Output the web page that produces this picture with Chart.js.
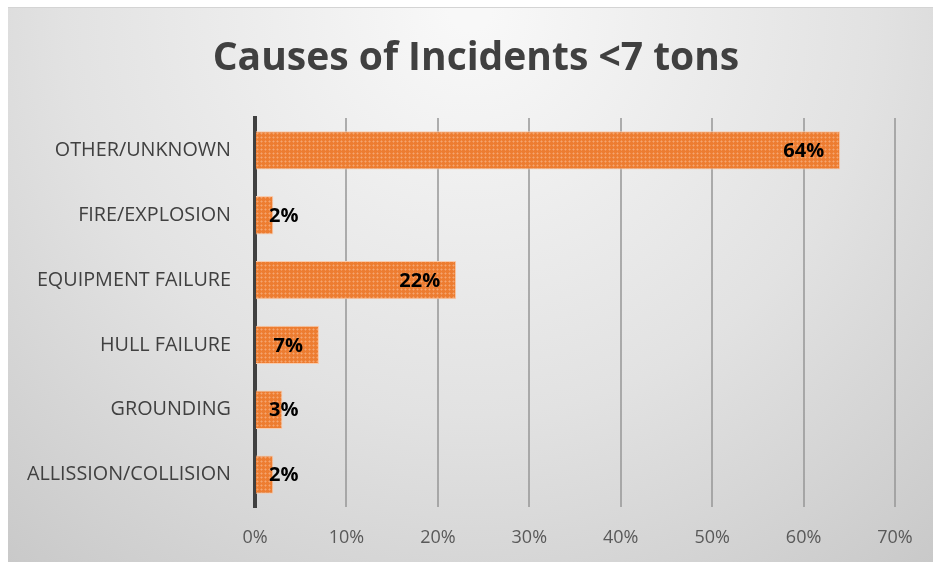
<!DOCTYPE html>
<html lang="en">
<head>
    <meta charset="UTF-8">
    <title>Causes of Incidents &lt;7 tons</title>
    <style>
        html, body {
            margin: 0;
            padding: 0;
            background: #ffffff;
        }
        #wrap {
            position: relative;
            width: 933px;
            height: 562px;
        }
    </style>
</head>
<body>
    <div id="wrap">
        <canvas id="causesChart" width="933" height="562"></canvas>
    </div>

    <script src="https://cdn.jsdelivr.net/npm/chart.js"></script>

    <script>
        // Data
        const chartTitle = 'Causes of Incidents <7 tons';
        const categories = ['OTHER/UNKNOWN', 'FIRE/EXPLOSION', 'EQUIPMENT FAILURE', 'HULL FAILURE', 'GROUNDING', 'ALLISSION/COLLISION'];
        const shares = [64, 2, 22, 7, 3, 2];
        const tickValues = [0, 10, 20, 30, 40, 50, 60, 70];

        const FONT = '"Open Sans", Lato, sans-serif';

        // Dotted orange fill like the Excel pattern
        function makeBarPattern() {
            const tile = document.createElement('canvas');
            tile.width = 4;
            tile.height = 4;
            const t = tile.getContext('2d');
            t.fillStyle = '#ed7d31';
            t.fillRect(0, 0, 4, 4);
            t.fillStyle = '#f5a66f';
            t.fillRect(1, 1, 1, 1);
            t.fillStyle = '#f19253';
            t.fillRect(0, 1, 1, 1);
            t.fillRect(2, 1, 1, 1);
            t.fillRect(1, 0, 1, 1);
            t.fillRect(1, 2, 1, 1);
            return t.createPattern(tile, 'repeat');
        }

        // Gray gradient panel behind the whole chart, plus the title
        // (the title sits centred on the panel, not on the plot box)
        const panelBackground = {
            id: 'panelBackground',
            beforeDraw(chart) {
                const ctx = chart.ctx;
                const w = chart.width, h = chart.height;
                ctx.save();
                const g = ctx.createRadialGradient(470, 10, 20, 470, 10, 720);
                g.addColorStop(0, '#f8f8f8');
                g.addColorStop(0.55, '#e2e2e2');
                g.addColorStop(1, '#c9c9c9');
                ctx.fillStyle = g;
                ctx.fillRect(8, 7, w - 8, h - 7);
                ctx.fillStyle = '#d4d4d4';
                ctx.fillRect(8, 7, w - 8, 1);

                ctx.font = 'bold 39px ' + FONT;
                ctx.fillStyle = '#404040';
                ctx.textAlign = 'center';
                ctx.textBaseline = 'middle';
                ctx.fillText(chartTitle, 476, 59);
                ctx.restore();
            }
        };

        // Bold percentage labels at the inner end of each bar
        const barLabels = {
            id: 'barLabels',
            afterDatasetsDraw(chart) {
                const ctx = chart.ctx;
                const meta = chart.getDatasetMeta(0);
                const xScale = chart.scales.x;
                ctx.save();
                ctx.font = 'bold 20px ' + FONT;
                ctx.fillStyle = '#000000';
                ctx.textBaseline = 'middle';
                ctx.textAlign = 'left';
                meta.data.forEach((bar, i) => {
                    const text = shares[i] + '%';
                    const tw = ctx.measureText(text).width;
                    let x = bar.x - 16 - tw;
                    const minX = xScale.getPixelForValue(0) + 14;
                    if (x < minX) x = minX;
                    ctx.fillText(text, x, bar.y + 1);
                });
                ctx.restore();
            }
        };

        const ctx = document.getElementById('causesChart').getContext('2d');
        const chart = new Chart(ctx, {
            type: 'bar',
            data: {
                labels: categories,
                datasets: [{
                    data: shares,
                    backgroundColor: makeBarPattern(),
                    borderColor: '#f8cbad',
                    borderWidth: 1,
                    barPercentage: 0.59,
                    categoryPercentage: 1.0
                }]
            },
            options: {
                indexAxis: 'y',
                responsive: false,
                animation: false,
                layout: {
                    padding: { top: 118, right: 38, bottom: 0, left: 0 }
                },
                plugins: {
                    legend: { display: false },
                    tooltip: { enabled: false },
                    title: { display: false }
                },
                scales: {
                    x: {
                        min: 0,
                        max: 70,
                        afterBuildTicks(scale) {
                            scale.ticks = tickValues.map(v => ({ value: v }));
                        },
                        afterFit(scale) {
                            scale.height = 55;
                        },
                        grid: {
                            color: 'rgba(150,150,150,0.75)',
                            lineWidth: 2,
                            drawTicks: false
                        },
                        border: { display: false },
                        ticks: {
                            padding: 20,
                            color: '#595959',
                            font: { family: FONT, size: 18 },
                            callback: v => v + '%'
                        }
                    },
                    y: {
                        afterFit(scale) {
                            scale.width = 255;
                        },
                        grid: { display: false, drawTicks: false },
                        border: { display: true, color: '#404040', width: 4 },
                        ticks: {
                            padding: 24,
                            color: '#404040',
                            font: { family: FONT, size: 19.8 }
                        }
                    }
                }
            },
            plugins: [panelBackground, barLabels]
        });
    </script>
</body>
</html>
